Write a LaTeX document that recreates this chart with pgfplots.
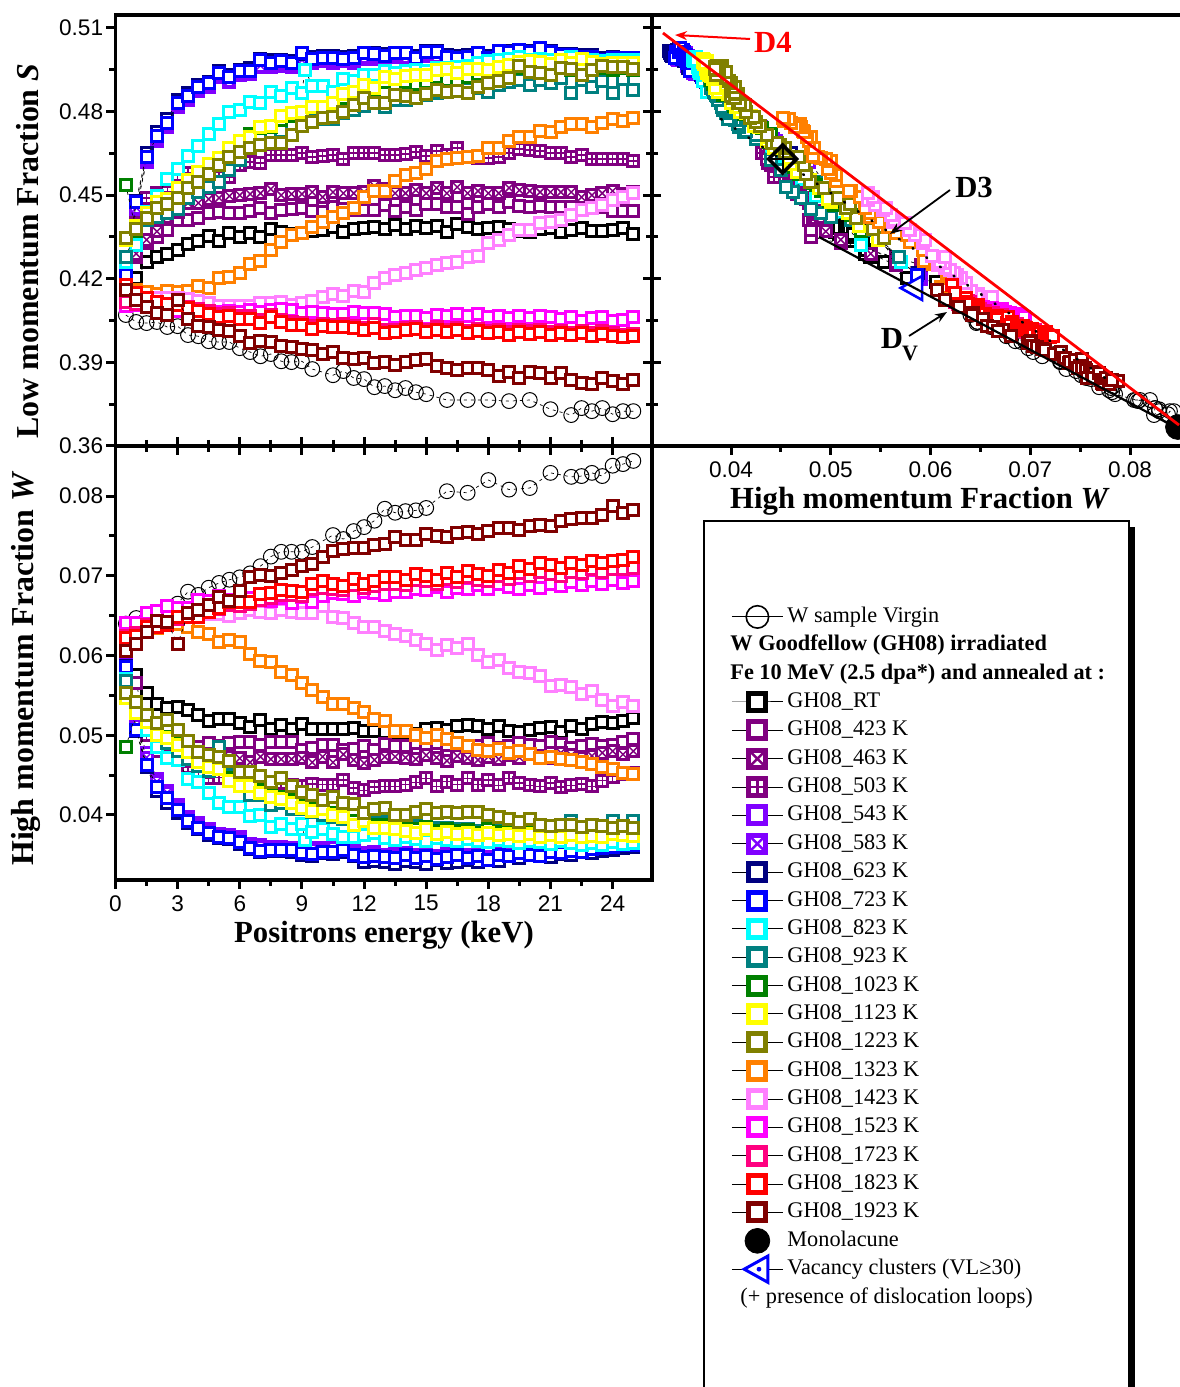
\documentclass[border=0pt]{standalone}
\usepackage{fontspec}
\usepackage{pgfplots}
\usepackage{pgfplotstable}
\pgfplotsset{compat=1.18}
\usetikzlibrary{arrows.meta}
\setmainfont{Liberation Serif}
\newfontfamily\arial{Liberation Sans}
\newcommand\tfont{\arial\fontsize{11.3}{13}\selectfont}
\newcommand\lfont{\bfseries\fontsize{15.35}{18}\selectfont}
\newcommand\vfont{\bfseries\fontsize{15.95}{18}\selectfont}
\definecolor{cPurple}{HTML}{800080}
\definecolor{cViolet}{HTML}{8000FF}
\definecolor{cNavy}{HTML}{000080}
\definecolor{cBlue}{HTML}{0000FF}
\definecolor{cCyan}{HTML}{00FFFF}
\definecolor{cTeal}{HTML}{008080}
\definecolor{cGreen}{HTML}{008000}
\definecolor{cYellow}{HTML}{FFFF00}
\definecolor{cOlive}{HTML}{808000}
\definecolor{cOrange}{HTML}{FF8000}
\definecolor{cLight}{HTML}{FF80FF}
\definecolor{cMag}{HTML}{FF00FF}
\definecolor{cPink}{HTML}{FF0080}
\definecolor{cRed}{HTML}{FF0000}
\definecolor{cDark}{HTML}{800000}
\pgfdeclareplotmark{sqx}{%
 \pgfpathrectangle{\pgfpoint{-\pgfplotmarksize}{-\pgfplotmarksize}}{\pgfpoint{2\pgfplotmarksize}{2\pgfplotmarksize}}\pgfusepathqfillstroke
 \pgfscope\pgfsetlinewidth{.5\pgflinewidth}%
 \pgfpathmoveto{\pgfpoint{-\pgfplotmarksize}{-\pgfplotmarksize}}\pgfpathlineto{\pgfpoint{\pgfplotmarksize}{\pgfplotmarksize}}%
 \pgfpathmoveto{\pgfpoint{-\pgfplotmarksize}{\pgfplotmarksize}}\pgfpathlineto{\pgfpoint{\pgfplotmarksize}{-\pgfplotmarksize}}\pgfusepathqstroke\endpgfscope}
\pgfdeclareplotmark{sqp}{%
 \pgfpathrectangle{\pgfpoint{-\pgfplotmarksize}{-\pgfplotmarksize}}{\pgfpoint{2\pgfplotmarksize}{2\pgfplotmarksize}}\pgfusepathqfillstroke
 \pgfscope\pgfsetlinewidth{.5\pgflinewidth}%
 \pgfpathmoveto{\pgfpoint{-\pgfplotmarksize}{0pt}}\pgfpathlineto{\pgfpoint{\pgfplotmarksize}{0pt}}%
 \pgfpathmoveto{\pgfpoint{0pt}{\pgfplotmarksize}}\pgfpathlineto{\pgfpoint{0pt}{-\pgfplotmarksize}}\pgfusepathqstroke\endpgfscope}
\pgfdeclareplotmark{diamx}{%
 \pgfpathmoveto{\pgfpoint{-\pgfplotmarksize}{0pt}}\pgfpathlineto{\pgfpoint{0pt}{\pgfplotmarksize}}\pgfpathlineto{\pgfpoint{\pgfplotmarksize}{0pt}}\pgfpathlineto{\pgfpoint{0pt}{-\pgfplotmarksize}}\pgfpathclose\pgfusepathqstroke
 \pgfscope\pgfsetlinewidth{.6\pgflinewidth}%
 \pgfpathmoveto{\pgfpoint{-\pgfplotmarksize}{0pt}}\pgfpathlineto{\pgfpoint{\pgfplotmarksize}{0pt}}%
 \pgfpathmoveto{\pgfpoint{0pt}{\pgfplotmarksize}}\pgfpathlineto{\pgfpoint{0pt}{-\pgfplotmarksize}}\pgfusepathqstroke\endpgfscope}
\pgfdeclareplotmark{ltri}{%
 \pgfpathmoveto{\pgfpoint{-\pgfplotmarksize}{0pt}}\pgfpathlineto{\pgfpoint{.8\pgfplotmarksize}{\pgfplotmarksize}}\pgfpathlineto{\pgfpoint{.8\pgfplotmarksize}{-\pgfplotmarksize}}\pgfpathclose\pgfusepathqfillstroke}
\pgfdeclareplotmark{ltrid}{%
 \pgfpathmoveto{\pgfpoint{-\pgfplotmarksize}{0pt}}\pgfpathlineto{\pgfpoint{.8\pgfplotmarksize}{\pgfplotmarksize}}\pgfpathlineto{\pgfpoint{.8\pgfplotmarksize}{-\pgfplotmarksize}}\pgfpathclose\pgfusepathqfillstroke
 \pgfscope\pgfsetfillcolor{cBlue}\pgfpathcircle{\pgfpoint{.12\pgfplotmarksize}{0pt}}{.18\pgfplotmarksize}\pgfusepathqfill\endpgfscope}
\pgfplotsset{
 ser/.style 2 args={black,line width=.35pt,dash pattern=on 1.5pt off 2pt,mark=#2,mark size=2.75pt,mark options={draw=#1,fill=white,line width=1.5pt,solid}},
 leg/.style 2 args={black,line width=.5pt,mark=#2,mark size=4.25pt,mark options={draw=#1,fill=white,line width=2.5pt,solid}},
 frame/.style={scale only axis,clip=false,clip mode=individual,scaled ticks=false,
  axis line style={line width=1.7pt},
  tick style={line width=1.5pt,black},
  major tick length=4.5pt,minor tick length=3pt,
  tick align=outside,
  minor x tick num=1,minor y tick num=1,
  tick label style={font=\tfont},
  ylabel=\empty,xlabel=\empty,
  y tick label style={/pgf/number format/fixed,/pgf/number format/fixed zerofill,/pgf/number format/precision=2,/pgf/number format/assume math mode=true,inner sep=1.5pt},
  x tick label style={/pgf/number format/assume math mode=true,inner sep=3pt},
 },
}
\pgfplotstableread[row sep=\\]{E S W\\.5 .4070 .0640\\1 .4045 .0647\\1.5 .4041 .0646\\2 .4045 .0647\\2.5 .4027 .0660\\3 .4030 .0665\\3.5 .3998 .0680\\4 .3994 .0676\\4.5 .3976 .0685\\5 .3973 .0691\\5.5 .3973 .0695\\6 .3951 .0698\\6.5 .3937 .0703\\7 .3922 .0712\\7.5 .3930 .0724\\8 .3904 .0730\\8.5 .3901 .0730\\9 .3904 .0730\\9.5 .3876 .0736\\10.5 .3854 .0751\\11 .3869 .0746\\11.5 .3844 .0756\\12 .3840 .0761\\12.5 .3811 .0769\\13 .3815 .0784\\13.5 .3800 .0779\\14 .3808 .0781\\14.5 .3793 .0782\\15 .3786 .0785\\16 .3765 .0806\\17 .3765 .0804\\18 .3765 .0820\\19 .3761 .0808\\20 .3765 .0810\\21 .3732 .0829\\22 .3711 .0824\\22.5 .3736 .0825\\23 .3725 .0829\\23.5 .3736 .0825\\24 .3714 .0838\\24.5 .3725 .0840\\25 .3725 .0844\\}\tV
\pgfplotstableread[row sep=\\]{E S W\\.5 .4190 .0605\\1 .4202 .0576\\1.5 .4260 .0553\\2 .4278 .0539\\2.5 .4289 .0534\\3 .4303 .0535\\3.5 .4325 .0532\\4 .4335 .0525\\4.5 .4353 .0518\\5 .4335 .0520\\5.5 .4364 .0520\\6 .4350 .0515\\6.5 .4364 .0510\\7 .4350 .0519\\7.5 .4378 .0508\\8 .4368 .0513\\8.5 .4360 .0508\\9 .4364 .0514\\9.5 .4371 .0508\\10 .4375 .0508\\10.5 .4386 .0508\\11 .4368 .0508\\11.5 .4378 .0509\\12 .4382 .0505\\12.5 .4386 .0505\\13 .4378 .0504\\13.5 .4393 .0503\\14 .4378 .0504\\14.5 .4389 .0502\\15 .4382 .0508\\15.5 .4389 .0509\\16 .4368 .0507\\16.5 .4396 .0512\\17 .4386 .0513\\17.5 .4378 .0511\\18 .4382 .0508\\18.5 .4386 .0512\\19 .4378 .0505\\19.5 .4371 .0504\\20 .4368 .0507\\20.5 .4378 .0509\\21 .4382 .0510\\21.5 .4368 .0504\\22 .4375 .0512\\22.5 .4382 .0508\\23 .4371 .0514\\23.5 .4371 .0516\\24 .4375 .0515\\24.5 .4382 .0518\\25 .4360 .0522\\}\tRT
\pgfplotstableread[row sep=\\]{E S W\\.5 .4250 .0590\\1 .4278 .0565\\1.5 .4328 .0510\\2 .4350 .0480\\2.5 .4375 .0480\\3 .4411 .0478\\3.5 .4411 .0482\\4 .4418 .0485\\4.5 .4436 .0490\\5 .4440 .0487\\5.5 .4436 .0490\\6 .4436 .0492\\6.5 .4443 .0492\\7 .4454 .0488\\7.5 .4436 .0492\\8 .4447 .0491\\8.5 .4450 .0492\\9 .4454 .0482\\9.5 .4445 .0484\\10 .4441 .0488\\10.5 .4457 .0488\\11 .4450 .0482\\11.5 .4447 .0483\\12 .4447 .0487\\12.5 .4447 .0481\\13 .4465 .0489\\13.5 .4443 .0487\\14 .4457 .0487\\14.5 .4447 .0490\\15 .4468 .0485\\15.5 .4468 .0490\\16 .4457 .0488\\16.5 .4457 .0485\\17 .4432 .0482\\17.5 .4457 .0487\\18 .4468 .0490\\18.5 .4457 .0484\\19 .4475 .0487\\19.5 .4461 .0490\\20 .4457 .0488\\20.5 .4461 .0486\\21 .4457 .0492\\21.5 .4457 .0489\\22 .4457 .0484\\22.5 .4447 .0487\\23 .4465 .0489\\23.5 .4457 .0486\\24 .4443 .0488\\24.5 .4443 .0492\\25 .4443 .0495\\}\tA
\pgfplotstableread[row sep=\\]{E S W\\.5 .4250 .0565\\1 .4290 .0540\\1.5 .4340 .0510\\2 .4370 .0495\\2.5 .4421 .0490\\3 .4439 .0485\\3.5 .4472 .0480\\4 .4472 .0478\\4.5 .4486 .0475\\5 .4490 .0476\\5.5 .4497 .0473\\6 .4500 .0471\\6.5 .4504 .0466\\7 .4507 .0473\\7.5 .4522 .0470\\8 .4500 .0470\\8.5 .4504 .0470\\9 .4504 .0471\\9.5 .4511 .0466\\10 .4493 .0473\\10.5 .4511 .0466\\11 .4507 .0476\\11.5 .4507 .0469\\12 .4511 .0465\\12.5 .4533 .0469\\13 .4522 .0473\\13.5 .4507 .0473\\14 .4507 .0472\\14.5 .4518 .0470\\15 .4507 .0475\\15.5 .4526 .0472\\16 .4507 .0468\\16.5 .4529 .0474\\17 .4507 .0471\\17.5 .4515 .0469\\18 .4507 .0473\\18.5 .4507 .0470\\19 .4526 .0475\\19.5 .4518 .0472\\20 .4515 .0476\\20.5 .4511 .0474\\21 .4511 .0472\\21.5 .4511 .0478\\22 .4511 .0475\\22.5 .4493 .0471\\23 .4500 .0474\\23.5 .4507 .0478\\24 .4515 .0480\\24.5 .4505 .0476\\25 .4510 .0480\\}\tB
\pgfplotstableread[row sep=\\]{E S W\\.5 .4260 .0565\\1 .4400 .0540\\1.5 .4490 .0500\\2 .4508 .0490\\2.5 .4530 .0480\\3 .4554 .0475\\3.5 .4579 .0460\\4 .4585 .0453\\4.5 .4570 .0446\\5 .4565 .0447\\5.5 .4565 .0443\\6 .4608 .0440\\6.5 .4619 .0438\\7 .4615 .0437\\7.5 .4644 .0438\\8 .4644 .0440\\8.5 .4644 .0437\\9 .4651 .0436\\9.5 .4637 .0439\\10 .4640 .0438\\10.5 .4644 .0438\\11 .4630 .0444\\11.5 .4651 .0434\\12 .4651 .0431\\12.5 .4651 .0435\\13 .4644 .0436\\13.5 .4644 .0436\\14 .4648 .0438\\14.5 .4655 .0441\\15 .4640 .0446\\15.5 .4658 .0436\\16 .4644 .0442\\16.5 .4669 .0438\\17 .4637 .0446\\17.5 .4633 .0438\\18 .4633 .0444\\18.5 .4637 .0437\\19 .4651 .0446\\19.5 .4666 .0440\\20 .4662 .0437\\20.5 .4658 .0436\\21 .4651 .0440\\21.5 .4651 .0435\\22 .4637 .0437\\22.5 .4644 .0439\\23 .4630 .0436\\23.5 .4630 .0443\\24 .4630 .0448\\24.5 .4630 .0451\\25 .4623 .0453\\}\tC
\pgfplotstableread[row sep=\\]{E S W\\.5 .4200 .0590\\1 .4450 .0515\\1.5 .4620 .0478\\2 .4695 .0445\\2.5 .4745 .0430\\3 .4815 .0412\\3.5 .4840 .0398\\4 .4875 .0390\\4.5 .4890 .0383\\5 .4925 .0376\\5.5 .4905 .0375\\6 .4930 .0372\\6.5 .4935 .0364\\7 .4960 .0362\\7.5 .4960 .0360\\8 .4965 .0360\\8.5 .4960 .0358\\9 .4980 .0355\\9.5 .4975 .0358\\10 .4980 .0358\\10.5 .4975 .0360\\11 .4980 .0358\\11.5 .4975 .0356\\12 .4990 .0352\\12.5 .4990 .0354\\13 .4990 .0350\\13.5 .4995 .0352\\14 .5000 .0352\\14.5 .4985 .0350\\15 .5000 .0352\\15.5 .5005 .0348\\16 .4990 .0352\\16.5 .4985 .0353\\17 .4990 .0350\\17.5 .5000 .0352\\18 .4985 .0347\\18.5 .5005 .0352\\19 .5005 .0352\\19.5 .5010 .0355\\20 .5005 .0352\\20.5 .5015 .0352\\21 .5010 .0355\\21.5 .4995 .0354\\22 .4998 .0357\\22.5 .4990 .0356\\23 .4990 .0358\\23.5 .4985 .0360\\24 .4990 .0361\\24.5 .4985 .0363\\25 .4985 .0364\\}\tD
\pgfplotstableread[row sep=\\]{E S W\\.5 .4205 .0588\\1 .4455 .0512\\1.5 .4625 .0472\\2 .4700 .0442\\2.5 .4750 .0428\\3 .4820 .0410\\3.5 .4845 .0396\\4 .4880 .0388\\4.5 .4895 .0381\\5 .4930 .0374\\5.5 .4910 .0373\\6 .4935 .0370\\6.5 .4940 .0362\\7 .4965 .0360\\7.5 .4965 .0358\\8 .4970 .0358\\8.5 .4965 .0356\\9 .4985 .0353\\9.5 .4980 .0356\\10 .4985 .0356\\10.5 .4980 .0358\\11 .4985 .0356\\11.5 .4980 .0354\\12 .4995 .0350\\12.5 .4995 .0352\\13 .4995 .0349\\13.5 .5000 .0350\\14 .4995 .0350\\14.5 .4990 .0348\\15 .5005 .0350\\15.5 .5000 .0347\\16 .4995 .0350\\16.5 .4990 .0352\\17 .4995 .0348\\17.5 .5005 .0351\\18 .4990 .0346\\18.5 .5010 .0351\\19 .5008 .0350\\19.5 .5013 .0353\\20 .5008 .0351\\20.5 .5018 .0351\\21 .5012 .0354\\21.5 .5000 .0353\\22 .5000 .0356\\22.5 .4995 .0355\\23 .4992 .0357\\23.5 .4988 .0359\\24 .4992 .0360\\24.5 .4988 .0362\\25 .4988 .0363\\}\tE
\pgfplotstableread[row sep=\\]{E S W\\.5 .4220 .0587\\1 .4480 .0505\\1.5 .4650 .0460\\2 .4725 .0430\\2.5 .4775 .0415\\3 .4840 .0402\\3.5 .4865 .0390\\4 .4895 .0382\\4.5 .4905 .0375\\5 .4945 .0371\\5.5 .4932 .0370\\6 .4950 .0364\\6.5 .4955 .0357\\7 .4990 .0354\\7.5 .4985 .0355\\8 .4985 .0355\\8.5 .4980 .0353\\9 .5005 .0350\\9.5 .4995 .0349\\10 .4998 .0352\\10.5 .4998 .0351\\11 .4995 .0354\\11.5 .4998 .0349\\12 .5012 .0341\\12.5 .5010 .0342\\13 .5005 .0341\\13.5 .5012 .0339\\14 .5012 .0342\\14.5 .5000 .0341\\15 .5018 .0338\\15.5 .5018 .0343\\16 .5003 .0340\\16.5 .4998 .0341\\17 .5002 .0344\\17.5 .5012 .0341\\18 .4998 .0343\\18.5 .5018 .0342\\19 .5016 .0348\\19.5 .5022 .0346\\20 .5016 .0350\\20.5 .5026 .0348\\21 .5016 .0347\\21.5 .5008 .0351\\22 .5008 .0350\\22.5 .5002 .0353\\23 .5002 .0352\\23.5 .4992 .0355\\24 .4996 .0356\\24.5 .4992 .0358\\25 .4992 .0360\\}\tF
\pgfplotstableread[row sep=\\]{E S W\\.5 .4215 .0586\\1 .4475 .0507\\1.5 .4637 .0463\\2 .4712 .0435\\2.5 .4759 .0421\\3 .4831 .0406\\3.5 .4856 .0392\\4 .4888 .0384\\4.5 .4903 .0377\\5 .4938 .0372\\5.5 .4924 .0371\\6 .4946 .0366\\6.5 .4946 .0359\\7 .4985 .0355\\7.5 .4974 .0356\\8 .4982 .0356\\8.5 .4974 .0356\\9 .5010 .0352\\9.5 .4989 .0351\\10 .4992 .0354\\10.5 .4992 .0354\\11 .4989 .0356\\11.5 .4992 .0350\\12 .5010 .0347\\12.5 .5007 .0349\\13 .4999 .0347\\13.5 .5010 .0346\\14 .5010 .0350\\14.5 .4992 .0346\\15 .5014 .0349\\15.5 .5014 .0345\\16 .4996 .0347\\16.5 .4992 .0350\\17 .4996 .0346\\17.5 .5010 .0349\\18 .4992 .0344\\18.5 .5017 .0350\\19 .5014 .0348\\19.5 .5021 .0352\\20 .5014 .0350\\20.5 .5028 .0349\\21 .5014 .0353\\21.5 .5003 .0352\\22 .5003 .0355\\22.5 .4996 .0354\\23 .4996 .0357\\23.5 .4985 .0358\\24 .4992 .0360\\24.5 .4992 .0362\\25 .4992 .0363\\}\tG
\pgfplotstableread[row sep=\\]{E S W\\.5 .4259 .0570\\1 .4320 .0530\\1.5 .4440 .0507\\2 .4497 .0485\\2.5 .4557 .0471\\3 .4593 .0469\\3.5 .4640 .0445\\4 .4678 .0441\\4.5 .4721 .0428\\5 .4757 .0415\\5.5 .4800 .0410\\6 .4804 .0410\\6.5 .4836 .0399\\7 .4832 .0400\\7.5 .4872 .0385\\8 .4856 .0389\\8.5 .4883 .0382\\9 .4868 .0389\\9.15 .4951 .0369\\9.5 .4893 .0379\\10 .4893 .0382\\10.5 .4872 .0376\\11 .4918 .0372\\11.5 .4908 .0372\\12 .4933 .0375\\12.5 .4930 .0378\\13 .4945 .0371\\13.5 .4940 .0369\\14 .4945 .0372\\14.5 .4948 .0370\\15 .4945 .0368\\15.5 .4955 .0371\\16 .4958 .0369\\16.5 .4960 .0367\\17 .4965 .0370\\17.5 .4975 .0368\\18 .4980 .0366\\18.5 .4985 .0369\\19 .4990 .0367\\19.5 .4995 .0365\\20 .4985 .0368\\20.5 .4990 .0366\\21 .4985 .0364\\21.5 .4985 .0367\\22 .4995 .0365\\22.5 .4985 .0362\\23 .4985 .0365\\23.5 .4980 .0363\\24 .4985 .0366\\24.5 .4985 .0364\\25 .4985 .0365\\}\tH
\pgfplotstableread[row sep=\\]{E S W\\.5 .4278 .0568\\1 .4375 .0540\\1.5 .4410 .0520\\2 .4420 .0500\\2.5 .4435 .0490\\3 .4450 .0480\\3.5 .4490 .0470\\4 .4510 .0462\\4.5 .4530 .0455\\5 .4547 .0485\\5.5 .4590 .0450\\6 .4625 .0440\\6.5 .4700 .0425\\7 .4715 .0425\\7.5 .4727 .0413\\8 .4730 .0415\\8.5 .4745 .0408\\9 .4755 .0407\\9.5 .4770 .0404\\10 .4775 .0400\\10.5 .4775 .0397\\11 .4795 .0395\\11.5 .4805 .0392\\12 .4820 .0392\\12.5 .4830 .0390\\13 .4815 .0391\\13.5 .4840 .0388\\14 .4840 .0387\\14.5 .4855 .0386\\15 .4860 .0385\\15.5 .4865 .0384\\16 .4875 .0384\\16.5 .4885 .0382\\17 .4880 .0382\\17.5 .4885 .0380\\18 .4870 .0383\\18.5 .4895 .0380\\19 .4905 .0381\\19.5 .4915 .0380\\20 .4895 .0380\\20.5 .4915 .0379\\21 .4903 .0385\\21.5 .4920 .0380\\22 .4867 .0392\\22.5 .4915 .0382\\23 .4888 .0380\\23.5 .4910 .0381\\24 .4867 .0393\\24.5 .4917 .0382\\25 .4877 .0393\\}\tI
\pgfplotstableread[row sep=\\]{E S W\\.5 .4536 .0485\\1 .4370 .0530\\1.5 .4430 .0520\\2 .4465 .0503\\2.5 .4480 .0498\\3 .4515 .0490\\3.5 .4545 .0482\\4 .4575 .0468\\4.5 .4600 .0463\\5 .4625 .0460\\5.5 .4665 .0447\\6 .4690 .0438\\6.5 .4720 .0440\\7 .4740 .0431\\7.5 .4745 .0426\\8 .4770 .0423\\8.5 .4785 .0419\\9 .4790 .0413\\9.5 .4815 .0408\\10 .4805 .0411\\10.5 .4820 .0403\\11 .4850 .0400\\11.5 .4860 .0392\\12 .4885 .0396\\12.5 .4875 .0387\\13 .4905 .0388\\13.5 .4900 .0385\\14 .4905 .0383\\14.5 .4900 .0382\\15 .4905 .0385\\15.5 .4925 .0380\\16 .4915 .0382\\16.5 .4912 .0380\\17 .4925 .0381\\17.5 .4935 .0378\\18 .4935 .0382\\18.5 .4945 .0379\\19 .4950 .0380\\19.5 .4955 .0379\\20 .4965 .0380\\20.5 .4950 .0376\\21 .4945 .0378\\21.5 .4960 .0376\\22 .4950 .0378\\22.5 .4950 .0376\\23 .4955 .0378\\23.5 .4955 .0376\\24 .4950 .0378\\24.5 .4955 .0377\\25 .4950 .0376\\}\tJ
\pgfplotstableread[row sep=\\]{E S W\\.5 .4340 .0547\\1 .4389 .0528\\1.5 .4436 .0517\\2 .4475 .0500\\2.5 .4486 .0497\\3 .4526 .0488\\3.5 .4554 .0479\\4 .4583 .0466\\4.5 .4612 .0460\\5 .4633 .0458\\5.5 .4669 .0443\\6 .4694 .0436\\6.5 .4709 .0436\\7 .4745 .0428\\7.5 .4748 .0423\\8 .4784 .0420\\8.5 .4795 .0415\\9 .4798 .0409\\9.5 .4816 .0405\\10 .4816 .0407\\10.5 .4831 .0400\\11 .4863 .0397\\11.5 .4870 .0387\\12 .4895 .0393\\12.5 .4885 .0384\\13 .4924 .0384\\13.5 .4917 .0382\\14 .4928 .0380\\14.5 .4931 .0378\\15 .4931 .0382\\15.5 .4949 .0376\\16 .4953 .0379\\16.5 .4938 .0376\\17 .4953 .0377\\17.5 .4953 .0375\\18 .4949 .0378\\18.5 .4960 .0375\\19 .4967 .0376\\19.5 .4978 .0374\\20 .4982 .0376\\20.5 .4978 .0372\\21 .4971 .0375\\21.5 .4985 .0373\\22 .4974 .0375\\22.5 .4989 .0372\\23 .4978 .0374\\23.5 .4970 .0373\\24 .4974 .0376\\24.5 .4974 .0375\\25 .4974 .0374\\}\tK
\pgfplotstableread[row sep=\\]{E S W\\.5 .4346 .0553\\1 .4378 .0542\\1.5 .4418 .0525\\2 .4454 .0515\\2.5 .4468 .0519\\3 .4490 .0507\\3.5 .4526 .0493\\4 .4547 .0479\\4.5 .4576 .0475\\5 .4608 .0473\\5.5 .4637 .0468\\6 .4655 .0454\\6.5 .4669 .0454\\7 .4680 .0449\\7.5 .4687 .0441\\8 .4687 .0446\\8.5 .4716 .0436\\9 .4748 .0429\\9.5 .4763 .0425\\10 .4777 .0419\\10.5 .4780 .0423\\11 .4798 .0415\\11.5 .4824 .0414\\12 .4849 .0402\\12.5 .4831 .0407\\13 .4831 .0409\\13.5 .4859 .0400\\14 .4856 .0400\\14.5 .4849 .0404\\15 .4863 .0407\\15.5 .4878 .0402\\16 .4870 .0404\\16.5 .4874 .0403\\17 .4867 .0404\\17.5 .4888 .0404\\18 .4903 .0400\\18.5 .4910 .0398\\19 .4920 .0395\\19.5 .4964 .0391\\20 .4942 .0395\\20.5 .4938 .0388\\21 .4931 .0386\\21.5 .4956 .0388\\22 .4953 .0387\\22.5 .4931 .0385\\23 .4949 .0388\\23.5 .4964 .0386\\24 .4960 .0384\\24.5 .4960 .0386\\25 .4953 .0384\\}\tL
\pgfplotstableread[row sep=\\]{E S W\\.5 .4170 .0610\\1 .4159 .0625\\1.5 .4152 .0630\\2 .4145 .0635\\2.5 .4156 .0640\\3 .4152 .0640\\3.5 .4156 .0636\\4 .4174 .0629\\4.5 .4167 .0627\\5 .4203 .0617\\5.5 .4206 .0619\\6 .4220 .0617\\6.5 .4253 .0602\\7 .4264 .0593\\7.5 .4303 .0592\\8 .4332 .0579\\8.5 .4357 .0576\\9 .4364 .0565\\9.5 .4386 .0557\\10 .4404 .0548\\10.5 .4421 .0539\\11 .4436 .0539\\11.5 .4454 .0534\\12 .4493 .0529\\12.5 .4515 .0520\\13 .4515 .0518\\13.5 .4551 .0505\\14 .4572 .0505\\14.5 .4579 .0500\\15 .4594 .0497\\15.5 .4623 .0500\\16 .4630 .0495\\16.5 .4633 .0490\\17 .4637 .0487\\17.5 .4640 .0482\\18 .4669 .0480\\18.5 .4669 .0483\\19 .4694 .0478\\19.5 .4709 .0480\\20 .4709 .0476\\20.5 .4730 .0472\\21 .4727 .0473\\21.5 .4745 .0470\\22 .4755 .0469\\22.5 .4755 .0466\\23 .4745 .0464\\23.5 .4759 .0460\\24 .4773 .0458\\24.5 .4766 .0453\\25 .4777 .0452\\}\tM
\pgfplotstableread[row sep=\\]{E S W\\.5 .4150 .0635\\1 .4130 .0640\\1.5 .4130 .0645\\2 .4130 .0650\\2.5 .4130 .0655\\3 .4130 .0655\\3.5 .4127 .0655\\4 .4120 .0652\\4.5 .4113 .0652\\5 .4102 .0652\\5.5 .4102 .0650\\6 .4102 .0653\\6.5 .4102 .0657\\7 .4113 .0655\\7.5 .4113 .0653\\8 .4116 .0657\\8.5 .4106 .0655\\9 .4113 .0653\\9.5 .4120 .0653\\10 .4134 .0662\\10.5 .4145 .0648\\11 .4138 .0647\\11.5 .4156 .0641\\12 .4152 .0636\\12.5 .4185 .0636\\13 .4203 .0631\\13.5 .4213 .0627\\14 .4220 .0624\\14.5 .4231 .0620\\15 .4238 .0614\\15.5 .4249 .0607\\16 .4256 .0613\\16.5 .4260 .0609\\17 .4278 .0614\\17.5 .4281 .0601\\18 .4328 .0592\\18.5 .4339 .0594\\19 .4357 .0584\\19.5 .4375 .0579\\20 .4375 .0578\\20.5 .4400 .0574\\21 .4404 .0562\\21.5 .4411 .0563\\22 .4429 .0560\\22.5 .4447 .0552\\23 .4454 .0555\\23.5 .4465 .0544\\24 .4482 .0537\\24.5 .4493 .0542\\25 .4508 .0537\\}\tN
\pgfplotstableread[row sep=\\]{E S W\\.5 .4102 .0641\\1 .4105 .0641\\1.5 .4100 .0653\\2 .4095 .0656\\2.5 .4095 .0662\\3 .4085 .0660\\3.5 .4085 .0660\\4 .4085 .0670\\4.5 .4085 .0668\\5 .4080 .0675\\5.5 .4085 .0670\\6 .4082 .0668\\6.5 .4088 .0672\\7 .4080 .0670\\7.5 .4088 .0668\\8 .4090 .0672\\8.5 .4088 .0666\\9 .4076 .0673\\9.5 .4082 .0667\\10 .4077 .0675\\10.5 .4072 .0678\\11 .4073 .0677\\11.5 .4080 .0675\\12 .4076 .0680\\12.5 .4078 .0678\\13 .4074 .0676\\13.5 .4062 .0680\\14 .4065 .0680\\14.5 .4068 .0684\\15 .4060 .0682\\15.5 .4070 .0686\\16 .4065 .0680\\16.5 .4075 .0685\\17 .4068 .0683\\17.5 .4072 .0688\\18 .4062 .0684\\18.5 .4068 .0690\\19 .4060 .0686\\19.5 .4066 .0683\\20 .4058 .0688\\20.5 .4068 .0685\\21 .4062 .0690\\21.5 .4055 .0687\\22 .4063 .0692\\22.5 .4050 .0688\\23 .4058 .0693\\23.5 .4062 .0690\\24 .4050 .0695\\24.5 .4052 .0691\\25 .4063 .0694\\}\tO
\pgfplotstableread[row sep=\\]{E S W\\.5 .4116 .0625\\1 .4110 .0628\\1.5 .4120 .0638\\2 .4115 .0640\\2.5 .4110 .0640\\3 .4105 .0646\\3.5 .4100 .0648\\4 .4090 .0650\\4.5 .4085 .0655\\5 .4075 .0658\\5.5 .4078 .0663\\6 .4065 .0662\\6.5 .4068 .0664\\7 .4052 .0670\\7.5 .4070 .0672\\8 .4052 .0676\\8.5 .4045 .0676\\9 .4042 .0675\\9.5 .4030 .0683\\10 .4038 .0685\\10.5 .4035 .0684\\11 .4036 .0682\\11.5 .4030 .0688\\12 .4024 .0685\\12.5 .4036 .0687\\13 .4015 .0690\\13.5 .4018 .0690\\14 .4025 .0689\\14.5 .4028 .0695\\15 .4018 .0693\\15.5 .4026 .0690\\16 .4016 .0696\\16.5 .4024 .0692\\17 .4014 .0698\\17.5 .4020 .0695\\18 .4014 .0694\\18.5 .4018 .0700\\19 .4008 .0696\\19.5 .4016 .0703\\20 .4012 .0700\\20.5 .4018 .0705\\21 .4008 .0702\\21.5 .4014 .0700\\22 .4006 .0705\\22.5 .4014 .0703\\23 .4004 .0708\\23.5 .4012 .0705\\24 .4004 .0708\\24.5 .4000 .0708\\25 .4002 .0710\\}\tP
\pgfplotstableread[row sep=\\]{E S W\\.5 .4177 .0622\\1 .4150 .0625\\1.5 .4130 .0636\\2 .4115 .0636\\2.5 .4110 .0638\\3 .4105 .0648\\3.5 .4095 .0648\\4 .4084 .0648\\4.5 .4075 .0655\\5 .4063 .0660\\5.5 .4066 .0667\\6 .4055 .0667\\6.5 .4055 .0667\\7 .4041 .0677\\7.5 .4063 .0678\\8 .4044 .0682\\8.5 .4034 .0681\\9 .4034 .0680\\9.5 .4019 .0690\\10 .4030 .0693\\10.5 .4027 .0690\\11 .4027 .0687\\11.5 .4023 .0696\\12 .4016 .0690\\12.5 .4023 .0693\\13 .4005 .0698\\13.5 .4009 .0698\\14 .4015 .0695\\14.5 .4020 .0702\\15 .4010 .0700\\15.5 .4018 .0695\\16 .4008 .0703\\16.5 .4015 .0698\\17 .4005 .0706\\17.5 .4012 .0702\\18 .4005 .0700\\18.5 .4010 .0707\\19 .4000 .0703\\19.5 .4008 .0712\\20 .4003 .0708\\20.5 .4010 .0716\\21 .4000 .0713\\21.5 .4005 .0710\\22 .3998 .0716\\22.5 .4005 .0714\\23 .3995 .0719\\23.5 .4003 .0716\\24 .3995 .0718\\24.5 .3990 .0720\\25 .3993 .0723\\}\tQ
\pgfplotstableread[row sep=\\]{E S W\\.5 .4159 .0606\\1 .4124 .0614\\1.5 .4098 .0629\\2 .4077 .0643\\2.5 .4070 .0642\\3 .4124 .0614\\3.5 .4055 .0653\\4 .4030 .0657\\4.5 .4027 .0663\\5 .4016 .0673\\5.5 .4012 .0668\\6 .3994 .0681\\6.5 .3969 .0698\\7 .3976 .0701\\7.5 .3973 .0700\\8 .3958 .0703\\8.5 .3955 .0707\\9 .3948 .0712\\9.5 .3944 .0715\\10 .3930 .0724\\10.5 .3937 .0731\\11 .3916 .0734\\11.5 .3912 .0735\\12 .3916 .0735\\12.5 .3898 .0739\\13 .3901 .0740\\13.5 .3891 .0749\\14 .3901 .0745\\14.5 .3908 .0745\\15 .3912 .0752\\15.5 .3887 .0750\\16 .3879 .0748\\16.5 .3872 .0754\\17 .3879 .0755\\17.5 .3879 .0752\\18 .3872 .0756\\18.5 .3851 .0760\\19 .3865 .0760\\19.5 .3844 .0757\\20 .3865 .0762\\20.5 .3861 .0764\\21 .3844 .0763\\21.5 .3861 .0769\\22 .3836 .0771\\22.5 .3826 .0772\\23 .3822 .0773\\23.5 .3844 .0776\\24 .3833 .0788\\24.5 .3822 .0779\\25 .3836 .0782\\}\tR
\newcommand\ALL[2]{%
 \addplot[black,line width=.35pt,dash pattern=on 1.5pt off 2pt,mark=o,mark size=3.7pt,mark options={draw=black,fill=white,line width=.5pt,solid}] table[x=#1,y=#2]{\tV};
 \addplot[ser={black}{square*}] table[x=#1,y=#2]{\tRT};
 \addplot[ser={cPurple}{square*}] table[x=#1,y=#2]{\tA};
 \addplot[ser={cPurple}{sqx}] table[x=#1,y=#2]{\tB};
 \addplot[ser={cPurple}{sqp}] table[x=#1,y=#2]{\tC};
 \addplot[ser={cViolet}{square*}] table[x=#1,y=#2]{\tD};
 \addplot[ser={cViolet}{sqx}] table[x=#1,y=#2]{\tE};
 \addplot[ser={cNavy}{square*}] table[x=#1,y=#2]{\tF};
 \addplot[ser={cBlue}{square*}] table[x=#1,y=#2]{\tG};
 \addplot[ser={cCyan}{square*}] table[x=#1,y=#2]{\tH};
 \addplot[ser={cTeal}{square*}] table[x=#1,y=#2]{\tI};
 \addplot[ser={cGreen}{square*}] table[x=#1,y=#2]{\tJ};
 \addplot[ser={cYellow}{square*}] table[x=#1,y=#2]{\tK};
 \addplot[ser={cOlive}{square*}] table[x=#1,y=#2]{\tL};
 \addplot[ser={cOrange}{square*}] table[x=#1,y=#2]{\tM};
 \addplot[ser={cLight}{square*}] table[x=#1,y=#2]{\tN};
 \addplot[ser={cMag}{square*}] table[x=#1,y=#2]{\tO};
 \addplot[ser={cPink}{square*}] table[x=#1,y=#2]{\tP};
 \addplot[ser={cRed}{square*}] table[x=#1,y=#2]{\tQ};
 \addplot[ser={cDark}{square*}] table[x=#1,y=#2]{\tR};
}
\begin{document}
\begin{tikzpicture}
\path[use as bounding box] (0,0) rectangle (589.5pt,693.5pt);
% energy - S
\begin{axis}[frame,at={(57.75pt,470.5pt)},anchor=south west,width=268.25pt,height=215.5pt,
 xmin=0,xmax=25.9,ymin=.36,ymax=.51467,
 xtick={0,3,...,24},xticklabels={},xtick pos=bottom,
 ytick={.36,.39,.42,.45,.48,.51},ytick pos=both,yticklabel pos=left]
\ALL{E}{S}
\end{axis}
% energy - W
\begin{axis}[frame,at={(57.75pt,253.5pt)},anchor=south west,width=268.25pt,height=217pt,
 xmin=0,xmax=25.9,ymin=.03185,ymax=.08627,
 xtick={0,3,...,24},xtick pos=both,xticklabel pos=bottom,
 ytick={.04,.05,.06,.07,.08},ytick pos=left]
\ALL{E}{W}
\end{axis}
% W - S
\begin{axis}[frame,at={(326pt,470.5pt)},anchor=south west,width=267pt,height=215.5pt,
 xmin=.03208,xmax=.08561,ymin=.36,ymax=.51467,
 xtick={.04,.05,.06,.07,.08},xtick pos=bottom,
 x tick label style={/pgf/number format/fixed,/pgf/number format/fixed zerofill,/pgf/number format/precision=2},
 ytick={.36,.39,.42,.45,.48,.51},yticklabels={},ytick pos=left]
\ALL{W}{S}
\addplot[only marks,mark=*,mark size=6.2pt,mark options={draw=black,fill=black,solid},forget plot] coordinates {(.0848,.3668)};
\addplot[only marks,mark=ltri,mark size=6pt,mark options={draw=cBlue,fill=white,line width=1.3pt,solid},forget plot] coordinates {(.0582,.4167)};
\addplot[only marks,mark=diamx,mark size=7pt,mark options={draw=black,line width=1.8pt,solid},forget plot] coordinates {(.04517,.463)};
\addplot[black,line width=1.1pt,forget plot] coordinates {(.04882,.435) (.08451,.3668)};
\addplot[cRed,line width=1.4pt,forget plot] coordinates {(.03318,.5082) (.08491,.3675)};
\addplot[black,line width=1.3pt,line cap=round,dash pattern=on .5pt off 7.75pt,forget plot] coordinates {(.0390,.47734) (.0787,.38153)};
\end{axis}
% legend
\begin{scope}[x=.5pt,y=-.5pt,yshift=693.5pt]
\fill[black] (1129,527) rectangle (1135,1400);
\draw[line width=.6pt] (704,1400) -- (704,521) -- (1129,521) -- (1129,1400);
\end{scope}
\begin{axis}[at={(0pt,0pt)},anchor=south west,scale only axis,width=589.5pt,height=693.5pt,hide axis,clip=false,
 xmin=0,xmax=1179,ymin=0,ymax=1387,
 legend cell align=left,
 legend image code/.code={\path (0pt,0pt) (27.5pt,0pt);\begin{scope}[overlay]\draw[mark repeat=2,mark phase=2,#1] plot coordinates {(0pt,0pt)(12.75pt,0pt)(25.5pt,0pt)};\end{scope}},
 legend style={at={(731/1179,{(1387-606)/1387})},anchor=north west,draw=none,fill=none,
  font=\fontsize{11.15}{12}\selectfont,row sep=3.68pt,inner sep=0pt,
  nodes={inner sep=0pt,text height=8pt,text depth=2.5pt}}]
\addlegendimage{black,line width=.5pt,mark=o,mark size=5.6pt,mark options={draw=black,fill=white,line width=.8pt,solid}}\addlegendentry{W sample Virgin}
\addlegendimage{empty legend}\addlegendentry{\makebox[0pt][l]{\hspace*{-29pt}\textbf{W Goodfellow (GH08) irradiated}}}
\addlegendimage{empty legend}\addlegendentry{\makebox[0pt][l]{\hspace*{-29pt}\textbf{Fe 10 MeV (2.5 dpa*) and annealed at :}}}
\addlegendimage{leg={black}{square*}}\addlegendentry{GH08\_RT}
\addlegendimage{leg={cPurple}{square*}}\addlegendentry{GH08\_423 K}
\addlegendimage{leg={cPurple}{sqx}}\addlegendentry{GH08\_463 K}
\addlegendimage{leg={cPurple}{sqp}}\addlegendentry{GH08\_503 K}
\addlegendimage{leg={cViolet}{square*}}\addlegendentry{GH08\_543 K}
\addlegendimage{leg={cViolet}{sqx}}\addlegendentry{GH08\_583 K}
\addlegendimage{leg={cNavy}{square*}}\addlegendentry{GH08\_623 K}
\addlegendimage{leg={cBlue}{square*}}\addlegendentry{GH08\_723 K}
\addlegendimage{leg={cCyan}{square*}}\addlegendentry{GH08\_823 K}
\addlegendimage{leg={cTeal}{square*}}\addlegendentry{GH08\_923 K}
\addlegendimage{leg={cGreen}{square*}}\addlegendentry{GH08\_1023 K}
\addlegendimage{leg={cYellow}{square*}}\addlegendentry{GH08\_1123 K}
\addlegendimage{leg={cOlive}{square*}}\addlegendentry{GH08\_1223 K}
\addlegendimage{leg={cOrange}{square*}}\addlegendentry{GH08\_1323 K}
\addlegendimage{leg={cLight}{square*}}\addlegendentry{GH08\_1423 K}
\addlegendimage{leg={cMag}{square*}}\addlegendentry{GH08\_1523 K}
\addlegendimage{leg={cPink}{square*}}\addlegendentry{GH08\_1723 K}
\addlegendimage{leg={cRed}{square*}}\addlegendentry{GH08\_1823 K}
\addlegendimage{leg={cDark}{square*}}\addlegendentry{GH08\_1923 K}
\addlegendimage{only marks,mark=*,mark size=6.2pt,mark options={draw=black,fill=black,solid}}\addlegendentry{Monolacune}
\addlegendimage{black,line width=.5pt,mark=ltrid,mark size=6.6pt,mark options={draw=cBlue,fill=white,line width=1.5pt,solid}}\addlegendentry{Vacancy clusters (VL≥30)}
\addlegendimage{empty legend}\addlegendentry{\makebox[0pt][l]{\hspace*{-24pt}(+ presence of dislocation loops)}}
\end{axis}
% labels and annotations
\begin{scope}[x=.5pt,y=-.5pt,yshift=693.5pt]
\node[rotate=90,font=\vfont,inner sep=0pt] at (28,251) {Low momentum Fraction \textit{S}};
\node[rotate=90,font=\vfont,inner sep=0pt] at (26,668.5) {High momentum Fraction \textit{W}};
\node[font=\lfont,inner sep=0pt] at (384,935) {Positrons energy (keV)};
\node[font=\lfont,inner sep=0pt] at (920,501) {High momentum Fraction \textit{W}};
\node[font=\lfont,text=cRed,inner sep=0pt] at (773,42) {D4};
\node[font=\lfont,inner sep=0pt] at (974,188) {D3};
\node[font=\lfont,inner sep=0pt] at (892,338) {D};
\node[font=\bfseries\fontsize{11}{12}\selectfont,inner sep=0pt] at (910,353) {V};
\draw[cRed,line width=1pt,-{Stealth[length=6pt,width=4.5pt]}] (750,39) -- (675,35);
\draw[black,line width=.9pt,-{Stealth[length=6pt,width=4.5pt]}] (950,190) -- (890,234);
\draw[black,line width=.9pt,-{Stealth[length=6pt,width=4.5pt]}] (909,336) -- (947,312);
\end{scope}
\end{tikzpicture}
\end{document}
